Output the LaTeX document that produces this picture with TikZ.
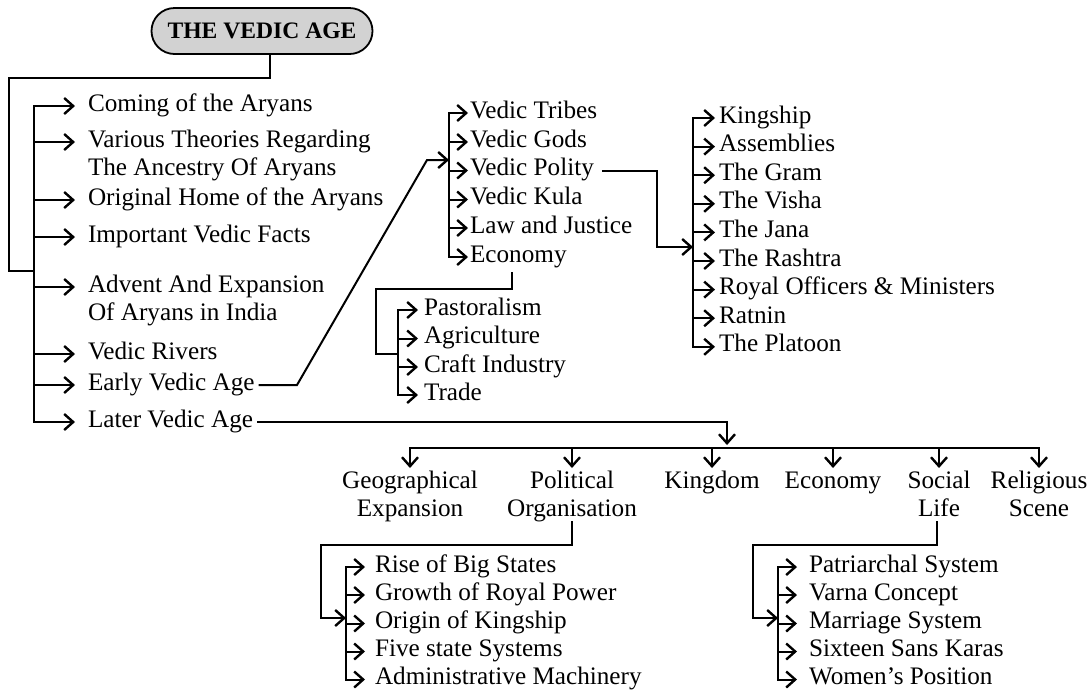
\documentclass[tikz,border=0pt]{standalone}
\usepackage{fontspec}
\setmainfont{Liberation Serif}
\usepackage{tikz}
\usetikzlibrary{arrows.meta, calc, shapes.misc}

\newcommand{\twol}[2]{\begin{tabular}[t]{@{}l@{}}#1\\#2\end{tabular}}
\newcommand{\twoc}[2]{\begin{tabular}[t]{@{}c@{}}#1\\#2\end{tabular}}

\begin{document}
\begin{tikzpicture}[
    x=0.5pt, y=-0.5pt,
    >={Straight Barb[length=4.5pt,width=8pt,line width=1.2pt]},
    line width=1pt,
    font=\fontsize{12.6}{14}\selectfont,
    title/.style={draw, line width=0.9pt, rounded rectangle, fill=gray!35, minimum width=110.5pt, minimum height=23pt, inner sep=0pt, font=\fontsize{11.8}{14}\selectfont\bfseries},
    item/.style={anchor=west, inner sep=0pt, text height=0.66em, text depth=0.16em},
    sub/.style={anchor=north, inner sep=0pt, text height=0.66em, text depth=16pt},
    feed/.style={->, shorten >=#1},
    feed/.default=1pt,
]
    \useasboundingbox (0,0) rectangle (1090,692);

    \node[title] (vedic) at (262,31) {THE VEDIC AGE};

    % main list
    \coordinate (mainbus) at (34,0);
    \node[item] (coming) at (87,106) {Coming of the Aryans};
    \node[item] (various) at (87,142) {\twol{Various Theories Regarding}{The Ancestry Of Aryans}};
    \node[item] (original) at (87,200) {Original Home of the Aryans};
    \node[item] (facts) at (87,237) {Important Vedic Facts};
    \node[item] (advent) at (87,287) {\twol{Advent And Expansion}{Of Aryans in India}};
    \node[item] (rivers) at (87,354) {Vedic Rivers};
    \node[item] (early) at (87,385) {Early Vedic Age};
    \node[item] (later) at (87,422) {Later Vedic Age};

    \draw ([xshift=4pt]vedic.south) |- (9,78) |- (34,271);
    \draw[<->, shorten <=6pt, shorten >=6pt] (coming.west) -- (coming.west -| mainbus) -- (later.west -| mainbus) -- (later.west);
    \foreach \n in {various, original, facts, advent, rivers, early}
        \draw[feed=6pt] (\n.west -| mainbus) -- (\n.west);

    % early vedic age
    \coordinate (vedbus) at (449,0);
    \coordinate (vedin) at (449,160);
    \node[item] (tribes) at (469,113) {Vedic Tribes};
    \node[item] (gods) at (469,142) {Vedic Gods};
    \node[item] (polity) at (469,170.5) {Vedic Polity};
    \node[item] (kula) at (469,199.5) {Vedic Kula};
    \node[item] (law) at (469,228) {Law and Justice};
    \node[item] (veco) at (469,257) {Economy};

    \draw[->, shorten <=1.5pt] (early.east) -- (297,385) -- (427,160) -- (vedin);
    \draw[<->, shorten <=0.5pt, shorten >=0.5pt] (tribes.west) -- (tribes.west -| vedbus) -- (veco.west -| vedbus) -- (veco.west);
    \foreach \n in {gods, polity, kula, law}
        \draw[feed=0.5pt] (\n.west -| vedbus) -- (\n.west);

    % polity
    \coordinate (kingbus) at (693,0);
    \coordinate (kingin) at (693,247);
    \node[item] (kingship) at (718,118) {Kingship};
    \node[item] (assemb) at (718,146.6) {Assemblies};
    \node[item] (gram) at (718,175.2) {The Gram};
    \node[item] (visha) at (718,203.8) {The Visha};
    \node[item] (jana) at (718,232.4) {The Jana};
    \node[item] (rashtra) at (718,261) {The Rashtra};
    \node[item] (officers) at (718,289.6) {Royal Officers \& Ministers};
    \node[item] (ratnin) at (718,318.2) {Ratnin};
    \node[item] (platoon) at (718,346.8) {The Platoon};

    \draw[->, shorten <=3.5pt] (polity.east) -| (657,247) -- (kingin);
    \draw[<->, shorten <=1.5pt, shorten >=1.5pt] (kingship.west) -- (kingship.west -| kingbus) -- (platoon.west -| kingbus) -- (platoon.west);
    \foreach \n in {assemb, gram, visha, jana, rashtra, officers, ratnin}
        \draw[feed=1.5pt] (\n.west -| kingbus) -- (\n.west);

    % economy
    \coordinate (ecobus) at (398,0);
    \coordinate (ecoin) at (398,354);
    \node[item] (pastoral) at (423,310) {Pastoralism};
    \node[item] (agri) at (423,338.5) {Agriculture};
    \node[item] (craft) at (423,367) {Craft Industry};
    \node[item] (trade) at (423,395) {Trade};

    \draw[shorten <=3pt] ([xshift=-3pt]veco.south) |- (376,289) |- (ecoin);
    \draw[<->, shorten <=2.5pt, shorten >=2.5pt] (pastoral.west) -- (pastoral.west -| ecobus) -- (trade.west -| ecobus) -- (trade.west);
    \foreach \n in {agri, craft}
        \draw[feed=2.5pt] (\n.west -| ecobus) -- (\n.west);

    % later vedic age
    \coordinate (lvin) at (727,448);
    \node[sub] (geo) at (410,474) {\twoc{Geographical}{Expansion}};
    \node[sub] (pol) at (572,474) {\twoc{Political}{Organisation}};
    \node[sub] (kingdom) at (712,474) {Kingdom};
    \node[sub] (leco) at (833,474) {Economy};
    \node[sub] (social) at (939,474) {\twoc{Social}{Life}};
    \node[sub] (relig) at (1039,474) {\twoc{Religious}{Scene}};

    \draw[->, shorten <=1.5pt, shorten >=1.5pt] (later.east) -| (lvin);
    \draw[<->, shorten <=3pt, shorten >=3pt] (geo.north) |- (lvin) -| (relig.north);
    \foreach \n in {pol, kingdom, leco, social}
        \draw[feed=3pt] (\n.north |- lvin) -- (\n.north);

    % political organisation
    \coordinate (polbus) at (346,0);
    \coordinate (polin) at (346,618);
    \node[item] (rise) at (374,567) {Rise of Big States};
    \node[item] (growth) at (374,595) {Growth of Royal Power};
    \node[item] (origin) at (374,623.5) {Origin of Kingship};
    \node[item] (five) at (374,651.5) {Five state Systems};
    \node[item] (admin) at (374,679.5) {Administrative Machinery};

    \draw[->] (pol.south) |- (321,545) |- (polin);
    \draw[<->, shorten <=4.5pt, shorten >=4.5pt] (rise.west) -- (rise.west -| polbus) -- (admin.west -| polbus) -- (admin.west);
    \foreach \n in {growth, origin, five}
        \draw[feed=4.5pt] (\n.west -| polbus) -- (\n.west);

    % social life
    \coordinate (socbus) at (778,0);
    \coordinate (socin) at (778,618);
    \node[item] (patri) at (808,567) {Patriarchal System};
    \node[item] (varna) at (808,595) {Varna Concept};
    \node[item] (marriage) at (808,623.5) {Marriage System};
    \node[item] (sixteen) at (808,651.5) {Sixteen Sans Karas};
    \node[item] (women) at (808,679.5) {Women’s Position};

    \draw[->] ([xshift=-1pt]social.south) |- (753,545) |- (socin);
    \draw[<->, shorten <=5.5pt, shorten >=5.5pt] (patri.west) -- (patri.west -| socbus) -- (women.west -| socbus) -- (women.west);
    \foreach \n in {varna, marriage, sixteen}
        \draw[feed=5.5pt] (\n.west -| socbus) -- (\n.west);
\end{tikzpicture}
\end{document}
